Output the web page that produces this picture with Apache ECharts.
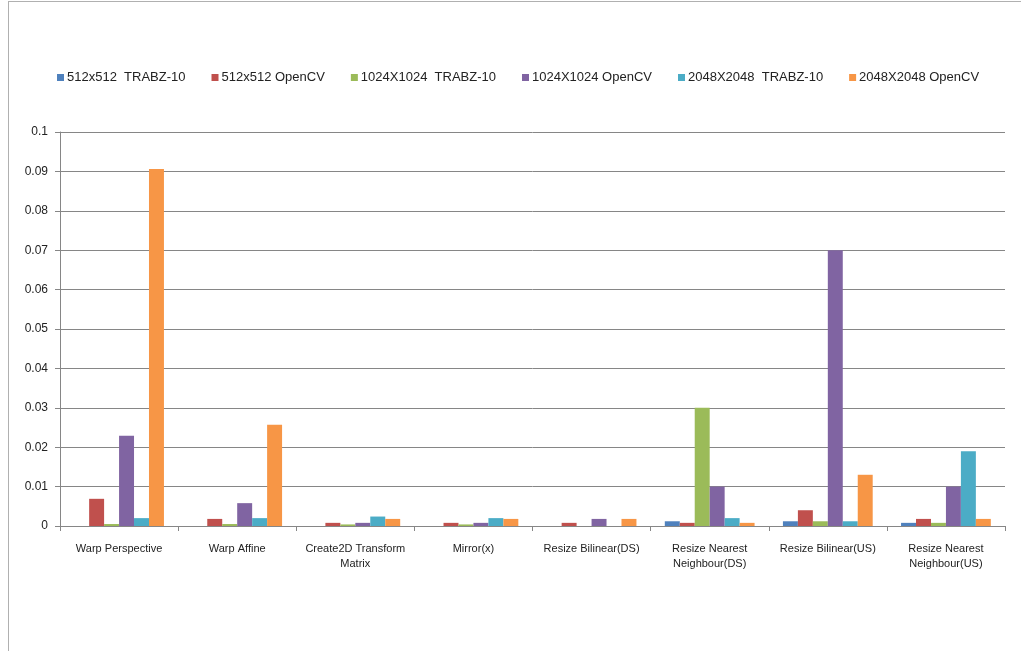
<!DOCTYPE html>
<html><head><meta charset="utf-8">
<script src="https://cdn.jsdelivr.net/npm/echarts@6/dist/echarts.min.js"></script>
<style>html,body{margin:0;padding:0;background:#fff}#c{width:1021px;height:651px}
#frame{position:absolute;left:8px;top:1px;width:1030px;height:700px;border:1px solid #b0b0b0;box-sizing:border-box;pointer-events:none}</style>
</head><body>
<div id="frame"></div>
<div id="c"></div>
<script>
const categories = ["Warp Perspective", "Warp Affine", "Create2D Transform\nMatrix", "Mirror(x)", "Resize Bilinear(DS)", "Resize Nearest\nNeighbour(DS)", "Resize Bilinear(US)", "Resize Nearest\nNeighbour(US)"];
const seriesNames = ["512x512  TRABZ-10", "512x512 OpenCV", "1024X1024  TRABZ-10", "1024X1024 OpenCV", "2048X2048  TRABZ-10", "2048X2048 OpenCV"];
const s512T = [0, 0, 0, 0, 0, 0.0012, 0.0012, 0.0008];
const s512O = [0.0069, 0.0018, 0.0008, 0.0008, 0.0008, 0.0008, 0.004, 0.0018];
const s1024T = [0.0005, 0.0005, 0.0004, 0.0004, 0, 0.03, 0.0012, 0.0008];
const s1024O = [0.0229, 0.0058, 0.0008, 0.0008, 0.0018, 0.01, 0.07, 0.01];
const s2048T = [0.002, 0.002, 0.0024, 0.002, 0, 0.002, 0.0012, 0.019];
const s2048O = [0.0906, 0.0257, 0.0018, 0.0018, 0.0018, 0.0008, 0.013, 0.0018];
const yTicks = [0, 0.01, 0.02, 0.03, 0.04, 0.05, 0.06, 0.07, 0.08, 0.09, 0.1];
const colors = ["#4F81BD", "#C0504D", "#9BBB59", "#8064A2", "#4BACC6", "#F79646"];
const allData = [s512T, s512O, s1024T, s1024O, s2048T, s2048O];
const font = "'Liberation Sans Narrow','Liberation Sans',sans-serif";
const chart = echarts.init(document.getElementById('c'));
chart.setOption({
  animation: false,
  color: colors,
  textStyle: {fontFamily: font},
  legend: {
    left: 52, top: 66, itemWidth: 7, itemHeight: 7, itemGap: 26,
    icon: 'rect',
    textStyle: {fontSize: 13, color: '#222', fontFamily: font, padding: [0,0,0,-2]},
    data: seriesNames
  },
  grid: {left: 60, right: 16, top: 132, bottom: 125},
  xAxis: {
    type: 'category', data: categories,
    axisLine: {lineStyle: {color: '#868686'}},
    axisTick: {show: true, length: 5, lineStyle: {color: '#868686'}, alignWithLabel: false},
    axisLabel: {fontSize: 11, color: '#222', margin: 15, lineHeight: 15, interval: 0, fontFamily: font}
  },
  yAxis: {
    type: 'value', min: 0, max: 0.1, interval: 0.01,
    axisLine: {show: true, lineStyle: {color: '#868686'}},
    axisTick: {show: true, length: 5, lineStyle: {color: '#868686'}},
    splitLine: {lineStyle: {color: '#868686'}},
    axisLabel: {fontSize: 12, color: '#222', margin: 12, fontFamily: font,
      formatter: v => { const t = yTicks.find(x => Math.abs(x - v) < 1e-9); return t === undefined ? '' : String(t); }}
  },
  series: seriesNames.map((n, i) => ({
    name: n, type: 'bar', data: allData[i], barGap: '0%', barCategoryGap: '24%'
  }))
});
</script>
</body></html>
